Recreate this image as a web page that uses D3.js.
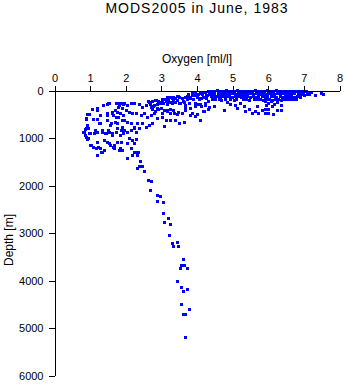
<!DOCTYPE html>
<html>
<head>
<meta charset="utf-8">
<script src="https://cdn.jsdelivr.net/npm/d3@7"></script>
<style>
	body { margin: 0; background: #fff; }
	text { font-family: "Liberation Sans", Arial, sans-serif; fill: #000; }
</style>
</head>
<body>
<div id="chart"></div>
<script>
// Chart text
const TITLE = "MODS2005 in June, 1983";
const X_LABEL = "Oxygen [ml/l]";
const Y_LABEL = "Depth [m]";
const X_TICKS = [0, 1, 2, 3, 4, 5, 6, 7, 8];
const Y_TICKS = [0, 1000, 2000, 3000, 4000, 5000, 6000];

// Observations as [oxygen ml/l, depth m], read off the picture
// dense surface layer, upper 200 m
const surfacePoints = [
	[4.40, 12], [4.48, 22], [4.57, 8], [4.65, 18], [4.73, 25], [4.82, 10], [4.90, 20], [4.98, 14],
	[5.06, 24], [5.15, 9], [5.23, 19], [5.31, 27], [5.40, 12], [5.48, 22], [5.56, 16], [5.65, 8],
	[5.73, 26], [5.81, 14], [5.90, 21], [5.98, 10], [6.06, 24], [6.15, 17], [6.23, 9], [6.31, 23],
	[6.40, 15], [6.48, 27], [6.56, 11], [6.65, 20], [6.73, 13], [6.81, 25], [6.90, 18], [6.98, 30],
	[7.06, 22], [7.15, 40], [7.22, 35],
	[4.42, 70], [4.50, 78], [4.59, 64], [4.67, 82], [4.75, 72], [4.84, 60], [4.92, 76], [5.00, 68],
	[5.09, 84], [5.17, 66], [5.25, 74], [5.34, 80], [5.42, 62], [5.50, 71], [5.59, 85], [5.67, 69],
	[5.75, 77], [5.84, 63], [5.92, 81], [6.00, 73], [6.09, 67], [6.17, 79], [6.25, 70], [6.34, 86],
	[6.42, 65], [6.50, 75], [6.59, 83], [6.67, 71], [6.75, 64], [6.84, 80], [6.92, 74], [7.00, 88],
	[7.09, 78], [7.17, 92],
	[4.41, 130], [4.49, 138], [4.58, 124], [4.66, 142], [4.74, 128], [4.83, 135], [4.91, 122], [4.99, 140],
	[5.08, 131], [5.16, 126], [5.24, 144], [5.33, 133], [5.41, 121], [5.49, 137], [5.58, 129], [5.66, 146],
	[5.74, 125], [5.83, 136], [5.91, 141], [5.99, 127], [6.08, 134], [6.16, 123], [6.24, 139], [6.33, 130],
	[6.41, 145], [6.49, 126], [6.58, 137], [6.66, 128], [6.74, 143], [6.83, 120], [6.91, 150], [7.02, 115],
	[4.44, 190], [4.52, 198], [4.62, 184], [4.70, 205], [4.80, 192], [4.95, 186], [5.05, 200], [5.12, 188],
	[5.30, 195], [5.38, 182], [5.46, 204], [5.62, 190], [5.70, 198], [5.78, 186], [5.86, 207], [5.95, 194],
	[6.03, 183], [6.11, 200], [6.20, 191], [6.28, 185], [6.36, 202], [6.45, 189], [6.53, 196], [6.62, 184],
	[6.70, 199], [6.80, 180]
];

// scattered points just below and left of the surface layer
const shallowPoints = [
	[3.95, 63], [4.01, 98], [4.09, 42], [4.15, 84], [4.22, 42], [4.29, 98], [4.34, 42], [4.00, 154],
	[4.13, 168], [4.27, 168], [4.06, 182],
	[3.97, 274], [4.03, 295], [4.13, 344], [4.25, 309], [4.34, 365], [4.20, 435], [4.48, 344], [4.76, 414],
	[4.86, 253], [4.95, 295], [5.09, 323], [5.13, 379], [5.23, 274], [5.32, 344], [5.37, 449], [5.46, 393],
	[5.55, 484], [5.65, 435], [5.74, 484], [5.83, 414], [5.69, 344], [3.97, 554], [4.11, 624],
	[7.33, 98], [7.49, 63], [7.55, 84],
	[5.91, 238], [6.00, 274], [6.09, 238], [6.18, 295], [6.27, 253], [6.37, 309], [5.96, 323], [6.12, 344],
	[5.93, 393], [6.02, 393], [6.26, 414], [6.37, 414], [5.93, 484], [6.02, 484], [6.16, 505]
];

// sloping streak from about 2.6 to 4.4 ml/l in the upper 500 m
const streakPoints = [
	[2.64, 232], [2.74, 232], [2.83, 210], [2.92, 232], [3.02, 196], [3.11, 182], [3.20, 210], [3.30, 161],
	[3.39, 161], [3.48, 126], [3.58, 161], [3.67, 140], [3.76, 91], [3.86, 70], [3.95, 112], [4.04, 91],
	[4.14, 56], [4.23, 42], [4.32, 21],
	[2.69, 302], [2.78, 337], [2.88, 302], [2.97, 281], [3.06, 267], [3.16, 302], [3.25, 253], [3.34, 232],
	[3.44, 210], [3.53, 267], [3.62, 232], [3.72, 196], [3.81, 161], [3.90, 182], [4.00, 126], [4.09, 161],
	[4.18, 140], [4.28, 112], [4.37, 91],
	[2.74, 407], [2.83, 442], [2.92, 393], [3.02, 477], [3.16, 442], [3.25, 407], [3.34, 421], [3.48, 463],
	[3.67, 421], [3.81, 372], [3.95, 337], [4.09, 302], [4.23, 267], [4.32, 232], [4.18, 442], [4.32, 407],
	[4.00, 512]
];

// oxygen minimum cloud, roughly 200 to 1400 m
const midPoints = [
	[1.38, 316], [1.52, 281], [1.76, 267], [1.85, 281], [1.94, 295], [1.80, 351], [1.90, 386], [1.71, 421],
	[1.62, 456], [1.76, 456], [1.85, 491], [1.66, 526], [1.80, 561], [1.94, 526], [1.48, 491], [0.99, 512],
	[1.20, 421], [1.29, 526], [1.10, 617], [0.89, 610], [1.48, 631], [1.57, 737], [1.71, 666], [1.90, 631],
	[1.29, 688], [0.92, 772], [0.87, 828], [0.96, 807], [0.82, 877], [1.01, 912], [0.87, 947], [0.96, 1017],
	[1.15, 842], [1.34, 877], [1.43, 912], [1.52, 842], [1.62, 898], [1.76, 807], [1.90, 772], [1.94, 912],
	[1.85, 947], [1.01, 1158], [1.10, 1193], [1.24, 1193], [1.34, 1298], [1.20, 1368], [1.29, 1228],
	[1.48, 1087], [1.57, 1158], [1.66, 1193], [1.85, 1228], [1.76, 1087],
	[1.07, 407], [1.20, 386], [1.38, 316], [1.49, 295], [1.54, 267], [1.73, 267], [1.82, 316], [1.91, 281],
	[0.93, 505], [0.90, 597], [1.21, 618], [1.26, 702], [1.49, 527], [1.63, 491], [1.73, 562], [1.59, 702],
	[1.77, 702], [0.93, 737], [0.89, 807], [0.84, 878], [0.98, 913], [1.12, 899], [1.21, 878], [1.35, 842],
	[1.45, 913], [1.54, 878], [1.63, 948], [1.73, 878], [1.87, 842], [0.89, 983], [0.93, 1039], [1.21, 1088],
	[1.40, 1053], [1.54, 1123], [1.68, 1158], [1.87, 1088], [1.03, 1158], [1.17, 1229], [1.31, 1299],
	[1.21, 1369], [1.40, 1264], [1.68, 1229], [1.82, 1264],
	[3.17, 154], [3.27, 154], [3.34, 140], [3.44, 126], [3.50, 140], [3.59, 176], [3.73, 126], [3.83, 140],
	[3.87, 105],
	[2.66, 246], [2.75, 225], [2.85, 211], [2.94, 246], [3.03, 246], [3.13, 225], [3.22, 246], [3.31, 267],
	[3.41, 246], [3.50, 281], [3.64, 246], [3.69, 316], [3.78, 281],
	[1.96, 281], [2.05, 316], [2.15, 281], [2.24, 267], [2.38, 295], [2.47, 351], [2.57, 316], [2.71, 351],
	[2.80, 316], [2.89, 386], [2.99, 386], [3.08, 421], [3.17, 421], [3.27, 491], [3.36, 477], [3.45, 505],
	[3.59, 491], [3.69, 386], [3.83, 527], [3.87, 491],
	[2.01, 421], [2.10, 456], [2.19, 491], [2.29, 477], [2.43, 527], [2.52, 491], [2.61, 562], [2.71, 527],
	[2.80, 491], [2.89, 597], [3.03, 562], [3.13, 632], [3.27, 632], [3.41, 632], [3.50, 702], [3.64, 667],
	[1.96, 632], [2.05, 667], [2.15, 702], [2.24, 772], [2.33, 702], [2.47, 702], [2.57, 772], [2.66, 737],
	[2.75, 702], [3.08, 758],
	[1.96, 842], [2.05, 878], [2.15, 842], [2.24, 807], [2.38, 807], [2.29, 878],
	[2.10, 1018], [2.19, 1053], [2.29, 1039], [2.05, 1123], [2.24, 1123], [2.15, 1229], [2.24, 1299],
	[2.33, 1299], [2.19, 1369], [2.05, 1439], [2.36, 1299], [2.32, 1368], [1.90, 1263]
];

// deep tail below 1500 m
const deepPoints = [
	[2.41, 1501], [2.39, 1600], [2.33, 1648], [2.46, 1600], [2.53, 1705], [2.64, 1895], [2.71, 1922],
	[2.70, 2111], [2.88, 2204], [2.97, 2238], [2.90, 2330], [3.06, 2351], [3.06, 2583], [3.20, 2701],
	[3.09, 2785], [3.27, 2814], [3.22, 3059], [3.31, 3227], [3.45, 3200], [3.34, 3284], [3.48, 3290],
	[3.63, 3551], [3.57, 3690], [3.65, 3684], [3.54, 3753], [3.73, 3753], [3.46, 4027], [3.57, 4153],
	[3.73, 4195], [3.62, 4237], [3.57, 4511], [3.79, 4616], [3.62, 4709], [3.68, 4721], [3.68, 5193]
];

// Set up dimensions
const WIDTH = 345;
const HEIGHT = 384;

const svg = d3
	.select("#chart")
	.append("svg")
	.attr("width", WIDTH)
	.attr("height", HEIGHT);

svg.append("rect").attr("width", WIDTH).attr("height", HEIGHT).attr("fill", "#fff");

// Scales, depth grows downward, oxygen axis sits on top
const x = d3.scaleLinear().domain([0, 8]).range([54, 339]);
const y = d3.scaleLinear().domain([0, 6000]).range([90, 375]);

// Points
const allPoints = surfacePoints.concat(shallowPoints, streakPoints, midPoints, deepPoints);
svg.append("g")
	.selectAll("rect")
	.data(allPoints)
	.enter()
	.append("rect")
	.attr("x", (d) => Math.round(x(d[0])) - 1)
	.attr("y", (d) => Math.round(y(d[1])) - 1)
	.attr("width", 3)
	.attr("height", 3)
	.attr("fill", "#0000ff")
	.attr("shape-rendering", "crispEdges");

// Top axis
svg.append("g")
	.attr("transform", "translate(0.5,90.5)")
	.call(d3.axisTop(x).tickValues(X_TICKS).tickSize(5).tickSizeOuter(0).tickPadding(4).tickFormat(d3.format("d")));

// Left axis
svg.append("g")
	.attr("transform", "translate(54.5,0.5)")
	.call(d3.axisLeft(y).tickValues(Y_TICKS).tickSize(6).tickSizeOuter(0).tickPadding(5).tickFormat(d3.format("d")));

svg.selectAll(".domain, .tick line")
	.attr("stroke", "#000")
	.attr("shape-rendering", "crispEdges");
svg.selectAll(".tick text")
	.attr("font-family", "Liberation Sans, Arial, sans-serif")
	.attr("font-size", 11)
	.attr("fill", "#000");

// Title and axis labels
svg.append("text")
	.attr("x", 197)
	.attr("y", 13)
	.attr("text-anchor", "middle")
	.attr("font-size", 14)
	.attr("letter-spacing", 1)
	.text(TITLE);

svg.append("text")
	.attr("x", 197)
	.attr("y", 63)
	.attr("text-anchor", "middle")
	.attr("font-size", 12)
	.text(X_LABEL);

svg.append("text")
	.attr("transform", "translate(13,240) rotate(-90)")
	.attr("text-anchor", "middle")
	.attr("font-size", 12)
	.text(Y_LABEL);
</script>
</body>
</html>
